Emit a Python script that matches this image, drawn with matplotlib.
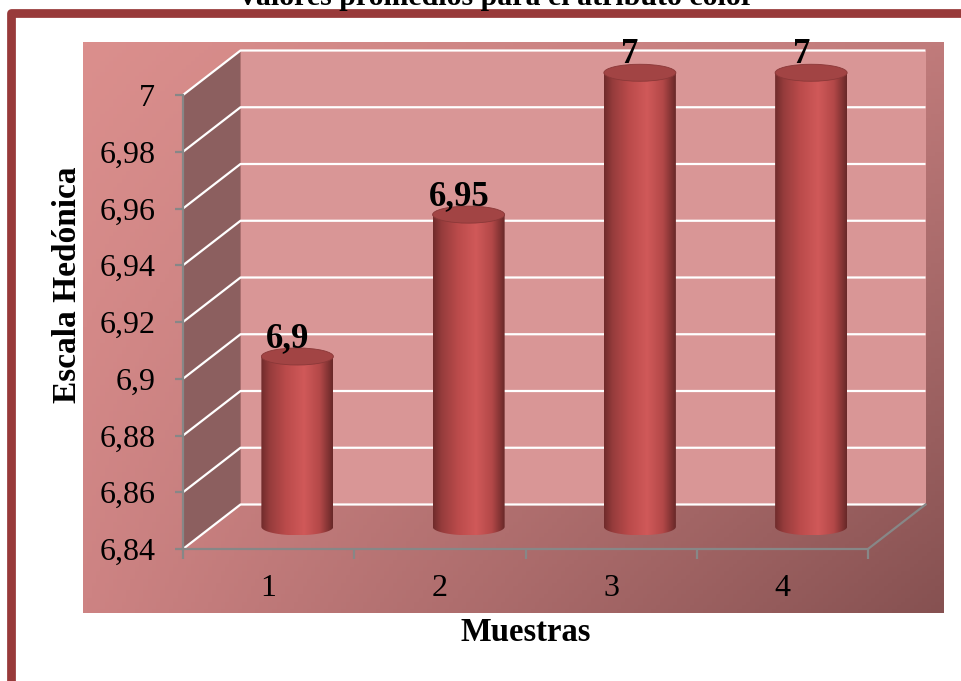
import matplotlib.pyplot as plt
import numpy as np
from matplotlib.colors import LinearSegmentedColormap, to_rgb
from matplotlib.patches import Polygon, Rectangle, Ellipse, PathPatch
from matplotlib.path import Path
from matplotlib.lines import Line2D

plt.rcParams['font.family'] = ['Liberation Serif', 'DejaVu Serif']

# Datos
muestras = ['1', '2', '3', '4']
valores = [6.9, 6.95, 7.0, 7.0]
etiquetas = ['6,9', '6,95', '7', '7']
y_ticks = [6.84, 6.86, 6.88, 6.90, 6.92, 6.94, 6.96, 6.98, 7.00]
y_tick_labels = ['6,84', '6,86', '6,88', '6,9', '6,92', '6,94', '6,96', '6,98', '7']
titulo = 'Valores promedios para el atributo color'

W, H = 961, 681
fig = plt.figure(figsize=(W / 100, H / 100), dpi=100)

# marco rojo de la pagina (solo arriba e izquierda)
fig.add_artist(Line2D([11 / W, 11 / W, 1.02], [-0.01, 1 - 12.5 / H, 1 - 12.5 / H],
                      transform=fig.transFigure, color='#983a3a', lw=6.3,
                      solid_joinstyle='round'))

fig.text(495 / W, 1 - 5 / H, titulo, ha='center', va='baseline',
         fontsize=21.5, fontweight='bold')

# fondo del area del grafico con degradado
bg = fig.add_axes([83 / W, 1 - 613 / H, 860 / W, 571 / H], zorder=0)
c_tl, c_tr = np.array(to_rgb('#db8f8d')), np.array(to_rgb('#c07b7b'))
c_bl, c_br = np.array(to_rgb('#cd8383')), np.array(to_rgb('#865151'))
u = np.linspace(0, 1, 200)[None, :, None]
v = np.linspace(0, 1, 150)[:, None, None]
grad = (1 - v) * ((1 - u) * c_tl + u * c_tr) + v * ((1 - u) * c_bl + u * c_br)
bg.imshow(grad, aspect='auto', extent=[0, 1, 0, 1], origin='upper')
bg.set_axis_off()

# ejes del plano frontal
ax = fig.add_axes([183 / W, 1 - 549 / H, 685 / W, 454 / H], zorder=1)
ax.set_facecolor('none')
y0, y1 = 6.84, 7.0

# profundidad en unidades de datos
DX = 57.5 / (685 / 4)
DY = 44.5 / (454 / (y1 - y0))

# pared lateral y pared del fondo
ax.add_patch(Polygon([(0, y0), (DX, y0 + DY), (DX, y1 + DY), (0, y1)],
                     closed=True, facecolor='#8c5f5f', edgecolor='none',
                     zorder=1, clip_on=False))
ax.add_patch(Rectangle((DX, y0 + DY), 4, y1 - y0, facecolor='#d99696',
                       edgecolor='none', zorder=1, clip_on=False))

for t in y_ticks:
    ax.plot([0, DX, 4 + DX], [t, t + DY, t + DY], color='white', lw=1.6,
            zorder=2, clip_on=False, solid_capstyle='butt')
ax.plot([4, 4 + DX], [y0, y0 + DY], color='#878787', lw=1.6, zorder=2,
        clip_on=False)

# cilindros
cmap = LinearSegmentedColormap.from_list(
    'cil', [(0, '#6f2b2b'), (0.12, '#963c3c'), (0.35, '#bb4b4b'),
            (0.6, '#d05959'), (0.82, '#b34848'), (1, '#682828')])
ancho = 72 / (685 / 4)
eh = 17 / (454 / (y1 - y0))
theta = np.linspace(np.pi, 2 * np.pi, 60)
fila = np.linspace(0, 1, 256)[None, :]
for i, val in enumerate(valores):
    cx = i + 0.5 + DX / 2
    base = y0 + DY / 2
    top = val + DY / 2
    xl, xr = cx - ancho / 2, cx + ancho / 2
    arco = np.column_stack([cx + ancho / 2 * np.cos(theta),
                            base + eh / 2 * np.sin(theta)])
    verts = np.vstack([[xl, top], arco, [xr, top], [xl, top]])
    cuerpo = PathPatch(Path(verts, closed=True), transform=ax.transData)
    im = ax.imshow(fila, cmap=cmap, aspect='auto', zorder=3,
                   extent=[xl, xr, base - eh / 2, top], interpolation='bilinear')
    im.set_clip_path(cuerpo)
    im.set_clip_box(fig.bbox)
    ax.add_patch(Ellipse((cx, top), ancho, eh, facecolor='#a24444',
                         edgecolor='#8a3838', lw=0.6, zorder=4, clip_on=False))
    ax.annotate(etiquetas[i], (cx, top), xytext=(-7, 7),
                textcoords='offset points', ha='center', va='baseline',
                fontsize=25, fontweight='bold', zorder=5, annotation_clip=False)

ax.set_xlim(0, 4)
ax.set_ylim(y0, y1)

# ejes, marcas y etiquetas
for s in ['top', 'right']:
    ax.spines[s].set_visible(False)
for s in ['left', 'bottom']:
    ax.spines[s].set_color('#878787')
    ax.spines[s].set_linewidth(1.6)
    ax.spines[s].set_zorder(2.5)

ax.set_yticks(y_ticks)
ax.set_yticklabels(y_tick_labels)
ax.tick_params(axis='y', direction='out', length=6, width=1.6, color='#878787',
               pad=14, labelsize=23)
ax.set_xticks([0, 1, 2, 3, 4])
ax.set_xticklabels([])
ax.set_xticks([0.5, 1.5, 2.5, 3.5], minor=True)
ax.set_xticklabels(muestras, minor=True)
ax.tick_params(axis='x', which='major', direction='out', length=7, width=1.6,
               color='#878787')
ax.tick_params(axis='x', which='minor', length=0, pad=18, labelsize=23)

fig.text(526 / W, 1 - 641 / H, 'Muestras', ha='center', va='baseline',
         fontsize=23.5, fontweight='bold')
fig.text(76 / W, 1 - 285 / H, 'Escala Hedónica', ha='center', va='baseline',
         rotation=90, rotation_mode='anchor', fontsize=24, fontweight='bold')

fig.savefig('out.png', dpi=100)
